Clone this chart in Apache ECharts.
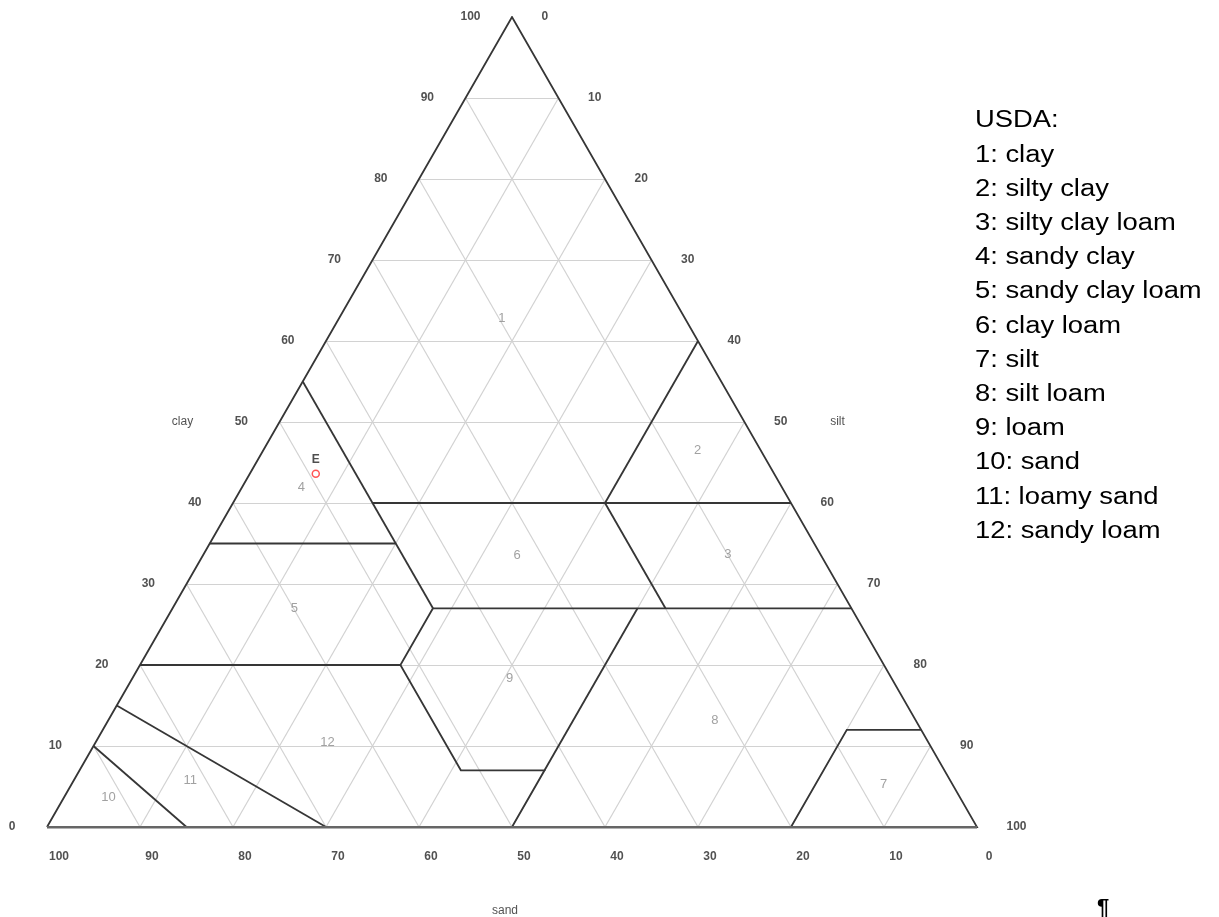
<!DOCTYPE html>
<html>
<head>
<meta charset="utf-8">
<title>USDA soil texture triangle</title>
<script src="https://cdn.jsdelivr.net/npm/echarts@6.0.0/dist/echarts.min.js"></script>
<style>
  html, body { margin: 0; padding: 0; background: #fff; }
  #chart { width: 1219px; height: 917px; }
</style>
</head>
<body>
<div id="chart"></div>
<script>
// ---- data -------------------------------------------------------------
// Axis tick values (percent) shared by clay, silt and sand.
const TICKS = [0, 10, 20, 30, 40, 50, 60, 70, 80, 90, 100];

// USDA texture classes, numbered 1..12.
const CLASS_NAMES = [
  'clay', 'silty clay', 'silty clay loam', 'sandy clay', 'sandy clay loam',
  'clay loam', 'silt', 'silt loam', 'loam', 'sand', 'loamy sand', 'sandy loam'
];

// Where each class number sits, as [clay %, silt %].
const CLASS_LABEL_AT = [
  [62.8, 17.5], [46.5, 46.7], [33.6, 56.4], [41.9, 6.4], [27.0, 13.1], [33.5, 33.8],
  [5.3, 87.3], [13.2, 65.2], [18.3, 40.6], [3.6, 4.8], [5.8, 12.5], [10.5, 24.9]
];

// Class boundaries as polylines of [clay %, silt %] vertices.
const BOUNDARIES = [
  [[55, 0], [27, 28]],                         // sand 45 %
  [[40, 15], [40, 60]],                        // clay 40 %
  [[40, 40], [60, 40]],                        // silt 40 % (clay / silty clay)
  [[40, 40], [27, 53]],                        // sand 20 %
  [[27, 28], [27, 73]],                        // clay 27 %
  [[35, 0], [35, 20]],                         // clay 35 %
  [[27, 28], [20, 28], [7, 41], [7, 50], [0, 50]], // loam, west and south
  [[7, 50], [27, 50]],                         // silt 50 %
  [[20, 0], [20, 28]],                         // clay 20 %
  [[15, 0], [0, 30]],                          // loamy sand / sandy loam
  [[10, 0], [0, 15]],                          // sand / loamy sand
  [[0, 80], [12, 80], [12, 88]]                // silt
];

// Triangle corners as [clay %, silt %].
const OUTLINE = [[0, 0], [100, 0], [0, 100]];

// Sample soil.
const SAMPLE_NAME = ['E'];
const SAMPLE_CLAY = [43.6];
const SAMPLE_SILT = [7.1];

// ---- ternary helpers ------------------------------------------------
// Plane coordinates: x runs sand 100 -> silt 100 along the base, y is clay.
function tern(clay, silt) { return [silt + clay / 2, clay]; }
function seg(a, b) { return { coords: [tern(a[0], a[1]), tern(b[0], b[1])] }; }

// Light reference grid every 10 %.
const gridSegs = [];
TICKS.slice(1, -1).forEach(function (v) {
  gridSegs.push(seg([v, 0], [v, 100 - v]));        // constant clay
  gridSegs.push(seg([0, v], [100 - v, v]));        // constant silt
  gridSegs.push(seg([0, 100 - v], [100 - v, 0]));  // constant sand
});

const boundaryData = BOUNDARIES.map(function (line) {
  return { coords: line.map(function (p) { return tern(p[0], p[1]); }) };
});

const outlineData = [
  { coords: OUTLINE.map(function (p) { return tern(p[0], p[1]); }).concat([tern(0, 0)]) }
];
const baseData = [seg(OUTLINE[0], OUTLINE[2])];

const clayTickData = TICKS.map(function (v) { return { name: String(v), value: tern(v, 0) }; });
const siltTickData = TICKS.map(function (v) { return { name: String(v), value: tern(100 - v, v) }; });
const sandTickData = TICKS.map(function (v) { return { name: String(v), value: tern(0, 100 - v) }; });

const classLabelData = CLASS_LABEL_AT.map(function (p, i) {
  return { name: String(i + 1), value: tern(p[0], p[1]) };
});

const sampleData = SAMPLE_NAME.map(function (n, i) {
  return { name: n, value: tern(SAMPLE_CLAY[i], SAMPLE_SILT[i]) };
});

const TICK_FONT = { fontFamily: '"Liberation Sans", Arial, sans-serif', fontSize: 12, fontWeight: 'bold', color: '#262626' };

function textSeries(data, label) {
  return {
    type: 'scatter',
    data: data,
    symbol: 'circle',
    symbolSize: 1,
    silent: true,
    itemStyle: { color: 'transparent' },
    label: Object.assign({ show: true, formatter: '{b}' }, TICK_FONT, label),
    z: 5
  };
}

const legendGraphics = ['USDA:'].concat(CLASS_NAMES.map(function (n, i) { return (i + 1) + ': ' + n; }))
  .map(function (t, i) {
    return {
      type: 'text',
      x: 975,
      y: 121 + i * 34.2,
      scaleX: 1.19,
      style: {
        text: t,
        fill: '#000',
        font: '23px "Liberation Sans", Arial, sans-serif',
        textAlign: 'left',
        textVerticalAlign: 'middle'
      }
    };
  });

legendGraphics.push({
  type: 'text',
  x: 1103,
  y: 908,
  style: {
    text: '\u00b6',
    fill: '#000',
    font: 'bold 22px "Liberation Sans", Arial, sans-serif',
    textAlign: 'center',
    textVerticalAlign: 'middle'
  }
});

const chart = echarts.init(document.getElementById('chart'), null, { renderer: 'canvas' });
chart.setOption({
  animation: false,
  backgroundColor: '#fff',
  grid: { left: 47, right: 242, top: 17, bottom: 90, containLabel: false, outerBoundsMode: 'none' },
  xAxis: { type: 'value', min: 0, max: 100, show: false },
  yAxis: { type: 'value', min: 0, max: 100, show: false },
  graphic: legendGraphics,
  series: [
    {
      type: 'lines', coordinateSystem: 'cartesian2d', silent: true, z: 1,
      data: gridSegs,
      lineStyle: { color: '#d2d2d2', width: 1.2, opacity: 1 }
    },
    {
      type: 'lines', coordinateSystem: 'cartesian2d', polyline: true, silent: true, z: 2,
      data: boundaryData,
      lineStyle: { color: '#363636', width: 1.8, opacity: 1 }
    },
    {
      type: 'lines', coordinateSystem: 'cartesian2d', polyline: true, silent: true, z: 3,
      data: outlineData,
      lineStyle: { color: '#363636', width: 1.8, opacity: 1 }
    },
    {
      type: 'lines', coordinateSystem: 'cartesian2d', silent: true, z: 3,
      data: baseData,
      lineStyle: { color: '#666', width: 2.8, opacity: 1 }
    },
    textSeries(clayTickData, { position: 'left', distance: 31 }),
    textSeries(siltTickData, { position: 'right', distance: 29 }),
    textSeries(sandTickData, { position: 'inside', offset: [12, 30] }),
    textSeries([{ name: 'clay', value: tern(50, 0) }], { position: 'inside', offset: [-97, 0], fontWeight: 'normal', fontSize: 12 }),
    textSeries([{ name: 'silt', value: tern(50, 50) }], { position: 'inside', offset: [93, 0], fontWeight: 'normal', fontSize: 12 }),
    textSeries([{ name: 'sand', value: tern(0, 50) }], { position: 'inside', offset: [-7, 84], fontWeight: 'normal', fontSize: 12 }),
    textSeries(classLabelData, { position: 'inside', fontWeight: 'normal', fontSize: 13, color: '#8a8a8a' }),
    {
      type: 'scatter',
      data: sampleData,
      symbol: 'circle',
      symbolSize: 7,
      silent: true,
      z: 6,
      itemStyle: { color: '#fff', borderColor: '#ff2a2a', borderWidth: 1.5 },
      label: {
        show: true, formatter: '{b}', position: 'top', distance: 4,
        fontFamily: '"Liberation Sans", Arial, sans-serif', fontSize: 12, fontWeight: 'bold', color: '#222'
      }
    }
  ]
});
</script>
</body>
</html>
